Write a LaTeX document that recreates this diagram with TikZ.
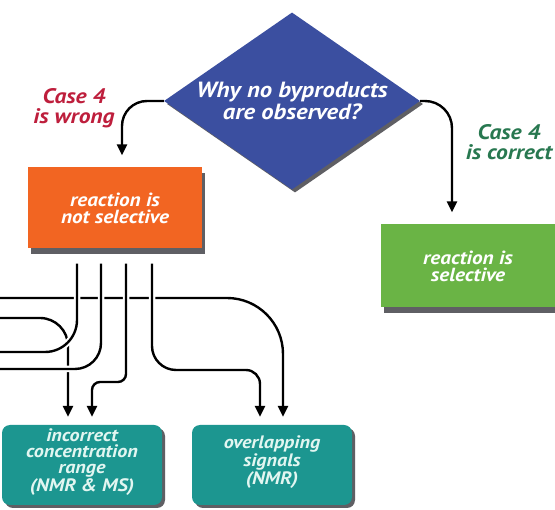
\documentclass[tikz,border=0pt]{standalone}
\usepackage{fontspec}
\setmainfont[FakeStretch=1.12]{PT Sans}
\usetikzlibrary{shapes.geometric,shadows,arrows.meta,calc}

\definecolor{qblue}{RGB}{59,79,160}
\definecolor{qorange}{RGB}{242,101,34}
\definecolor{qgreen}{RGB}{106,180,69}
\definecolor{qteal}{RGB}{28,150,144}
\definecolor{qtealtext}{RGB}{226,246,241}
\definecolor{qred}{RGB}{190,30,60}
\definecolor{qdkgreen}{RGB}{40,120,80}
\definecolor{qshadow}{RGB}{95,95,100}

\tikzset{
  question/.style={diamond, aspect=1.45, inner sep=0pt, fill=qblue,
    minimum width=256pt, minimum height=177pt, text=white, align=center,
    font=\fontsize{22}{20}\selectfont\bfseries\itshape,
    drop shadow={shadow xshift=3pt, shadow yshift=-3pt, fill=qshadow, opacity=1}},
  outcome/.style={rectangle, inner sep=0pt, minimum width=174pt, minimum height=81pt,
    text=white, align=center, font=\fontsize{19}{17}\selectfont\bfseries\itshape,
    drop shadow={shadow xshift=3pt, shadow yshift=-6pt, fill=qshadow, opacity=1}},
  cause/.style={rectangle, rounded corners=8pt, inner sep=0pt, fill=qteal,
    minimum width=160pt, minimum height=80pt, text=qtealtext, align=center,
    font=\fontsize{18}{16.4}\selectfont\bfseries\itshape,
    drop shadow={shadow xshift=3pt, shadow yshift=-3pt, fill=qshadow, opacity=1}},
  caselabel/.style={align=center, inner sep=0pt,
    font=\fontsize{21}{20}\selectfont\bfseries\itshape},
  link/.style={line width=2.4pt, draw=black, -{Triangle[length=11pt,width=10pt]}},
  crossing/.style={link, preaction={draw=white, line width=6.5pt, -}}
}

\begin{document}
\begin{tikzpicture}[x=1pt, y=-1pt]
  \fill[white] (0,0) rectangle (555,510);
  \useasboundingbox (0,0) rectangle (555,510);

  % decision and its two outcomes
  \node[question] (q) at (292,101) {Why no byproducts\\are observed?};
  \node[outcome, fill=qorange] (ns) at (115,208) {reaction is\\not selective};
  \node[outcome, fill=qgreen, minimum height=83pt] (sel) at (468,266)
    {reaction is\\selective};

  % consequences (text sits a little above the middle)
  \node[cause, text depth=10pt] (icr) at (82,465)
    {incorrect\\concentration\\range\\(NMR \& MS)};
  \node[cause, text depth=10pt] (ovl) at (272,465)
    {overlapping\\signals\\(NMR)};

  % branch labels
  \node[caselabel, text=qred] (wrong) at (74,108) {Case 4\\is wrong};
  \node[caselabel, text=qdkgreen] (right) at (509,142) {Case 4\\is correct};

  % branches out of the decision
  \draw[link, rounded corners=25pt] (q.west) -| ([xshift=7pt,yshift=12pt]ns.north);
  \draw[link, rounded corners=27pt] (q.east) -| ([xshift=-16pt,yshift=12pt]sel.north);

  % loose ends running off to the left
  \coordinate (inF) at (0,298);
  \coordinate (inA) at (0,318);
  \coordinate (outB) at (0,352);
  \coordinate (outC) at (0,369);

  % start points under the orange box
  \coordinate (sB) at ([xshift=-38pt,yshift=-15pt]ns.south);
  \coordinate (sC) at ([xshift=-14pt,yshift=-15pt]ns.south);
  \coordinate (sD) at ([xshift=11pt,yshift=-15pt]ns.south);
  \coordinate (sE) at ([xshift=37pt,yshift=-15pt]ns.south);

  % end points above the teal boxes
  \coordinate (tA) at ([xshift=-14pt,yshift=8pt]icr.north);
  \coordinate (tD) at ([xshift=10pt,yshift=8pt]icr.north);
  \coordinate (tE) at ([xshift=-12pt,yshift=8pt]ovl.north);
  \coordinate (tF) at ([xshift=11pt,yshift=8pt]ovl.north);

  \draw[link, rounded corners=56pt] (inF) -| (tF);
  \draw[crossing, rounded corners=28pt] (inA) -| (tA);
  \draw[crossing, rounded corners=32pt, -] (sB) |- (outB);
  \draw[crossing, rounded corners=26pt, -] (sC) |- (outC);
  \draw[crossing, rounded corners=8pt] (sD) -- (sD |- 0,382) -- (tD |- 0,382) -- (tD);
  \draw[crossing, rounded corners=24pt] (sE) -- (sE |- 0,370) [rounded corners=14pt] -- (tE |- 0,370) -- (tE);
\end{tikzpicture}
\end{document}
